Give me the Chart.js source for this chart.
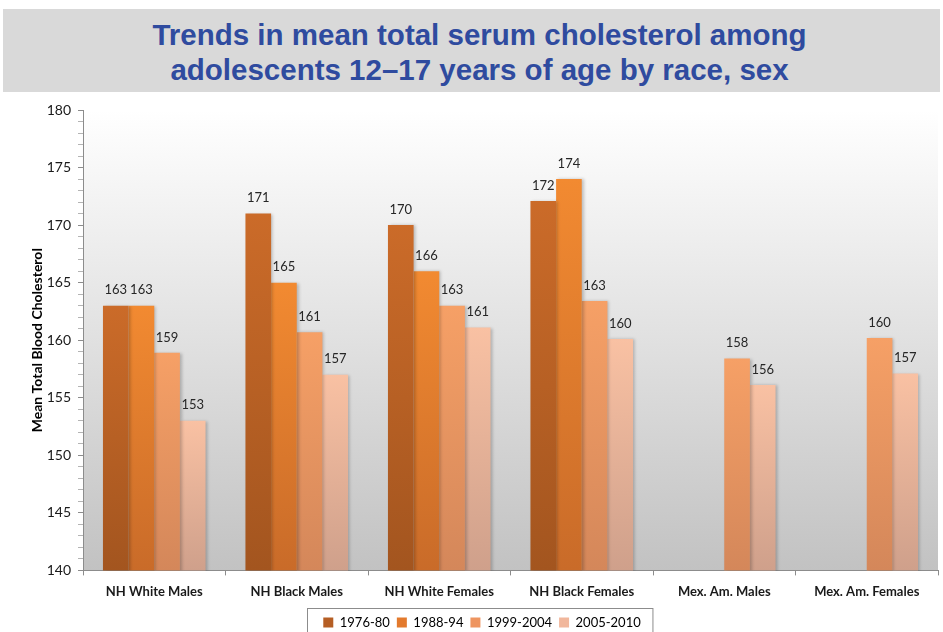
<!DOCTYPE html>
<html>
<head>
<meta charset="utf-8">
<script src="https://cdn.jsdelivr.net/npm/chart.js@4/dist/chart.umd.min.js"></script>
<style>
  html, body { margin: 0; padding: 0; background: #fff; overflow: hidden; }
  #page { position: relative; width: 943px; height: 632px; overflow: hidden; }
  #title {
    position: absolute; left: 3px; top: 9px; width: 937px; height: 83px;
    background: #d9d9d9; color: #2f4b9f; box-sizing: border-box; padding: 8px 0 0 16px;
    font: bold 29.5px "Liberation Sans", Arial, sans-serif; line-height: 35px; text-align: center;
  }
  #wrap { position: absolute; left: 0; top: 92px; width: 943px; height: 547px; }
</style>
</head>
<body>
<div id="page">
  <div id="title">Trends in mean total serum cholesterol among<br>adolescents 12–17 years of age by race, sex</div>
  <div id="wrap"><canvas id="chart"></canvas></div>
</div>
<script>
// data
const categories = ['NH White Males', 'NH Black Males', 'NH White Females', 'NH Black Females', 'Mex. Am. Males', 'Mex. Am. Females'];
const periods = ['1976-80', '1988-94', '1999-2004', '2005-2010'];
const values1976 = [163, 171, 170, 172.1, null, null];
const values1988 = [163, 165, 166, 174, null, null];
const values1999 = [158.9, 160.7, 163, 163.4, 158.4, 160.2];
const values2005 = [153, 157, 161.1, 160.1, 156.1, 157.1];
const yMin = 140;
const yMax = 180;
const yLabelStep = 5;

const topColors = ['#cb6b29', '#f28a31', '#f6a066', '#f9c1a3'];
const bottomColors = ['#a3551f', '#c96b29', '#d4875a', '#cfa08b'];
const legendColors = ['#b55e24', '#e37a2d', '#ee9560', '#f1b79c'];

// each bar shades from its top down to the axis
function barFill(i) {
  return (ctx) => {
    const chart = ctx.chart;
    const area = chart.chartArea;
    if (!area || ctx.raw == null) return topColors[i];
    const yTop = chart.scales.y.getPixelForValue(ctx.raw);
    const g = chart.ctx.createLinearGradient(0, yTop, 0, area.bottom);
    g.addColorStop(0, topColors[i]);
    g.addColorStop(1, bottomColors[i]);
    return g;
  };
}

const plotBackground = {
  id: 'plotBackground',
  beforeDraw(chart) {
    const { ctx, chartArea: a } = chart;
    const g = ctx.createLinearGradient(0, a.top, 0, a.bottom);
    g.addColorStop(0, '#ffffff');
    g.addColorStop(1, '#c2c2c2');
    ctx.save();
    ctx.fillStyle = g;
    ctx.fillRect(a.left, a.top, a.width, a.height);
    ctx.restore();
  }
};

const barShadow = {
  id: 'barShadow',
  beforeDatasetsDraw(chart) {
    const c = chart.ctx;
    c.save();
    c.shadowColor = 'rgba(0,0,0,0.22)';
    c.shadowBlur = 3;
    c.shadowOffsetX = 2;
  },
  afterDatasetsDraw(chart) {
    chart.ctx.restore();
  }
};

const barValueLabels = {
  id: 'barValueLabels',
  afterDatasetsDraw(chart) {
    const ctx = chart.ctx;
    ctx.save();
    ctx.font = '13px Lato';
    ctx.fillStyle = '#262626';
    ctx.textAlign = 'center';
    ctx.textBaseline = 'bottom';
    chart.data.datasets.forEach((ds, i) => {
      chart.getDatasetMeta(i).data.forEach((bar, j) => {
        const v = ds.data[j];
        if (v == null) return;
        ctx.fillText(Math.round(v), bar.x, bar.y - 9);
      });
    });
    ctx.restore();
  }
};

const legendBorder = {
  id: 'legendBorder',
  afterDraw(chart) {
    const boxes = chart.legend.legendHitBoxes;
    if (!boxes || !boxes.length) return;
    const left = Math.min(...boxes.map(b => b.left)) - 16;
    const right = Math.max(...boxes.map(b => b.left + b.width)) + 12;
    const top = boxes[0].top - 8;
    const ctx = chart.ctx;
    ctx.save();
    ctx.strokeStyle = '#8c8c8c';
    ctx.lineWidth = 1;
    ctx.strokeRect(Math.round(left) + 0.5, Math.round(top) + 0.5, right - left, 40);
    ctx.restore();
  }
};

const datasets = [values1976, values1988, values1999, values2005].map((vals, i) => ({
  label: periods[i],
  data: vals,
  backgroundColor: barFill(i),
  borderWidth: 0,
  categoryPercentage: 0.72,
  barPercentage: 1.0
}));

new Chart(document.getElementById('chart'), {
  type: 'bar',
  data: { labels: categories, datasets: datasets },
  options: {
    responsive: true,
    maintainAspectRatio: false,
    animation: false,
    layout: { padding: { top: 18, right: 5, left: 26, bottom: 0 } },
    plugins: {
      tooltip: { enabled: false },
      legend: {
        position: 'bottom',
        labels: {
          boxWidth: 10,
          boxHeight: 10,
          padding: 7,
          color: '#1a1a1a',
          font: { family: 'Lato', size: 13 },
          generateLabels: (chart) => chart.data.datasets.map((ds, i) => ({
            text: ds.label,
            fillStyle: legendColors[i],
            strokeStyle: legendColors[i],
            lineWidth: 0,
            datasetIndex: i
          }))
        }
      }
    },
    scales: {
      x: {
        grid: { drawOnChartArea: false, tickLength: 5, color: '#8c8c8c', offset: true },
        border: { color: '#8c8c8c' },
        ticks: {
          color: '#1a1a1a',
          font: { family: 'Lato', size: 13, weight: 'bold' },
          padding: 9,
          maxRotation: 0,
          autoSkip: false
        }
      },
      y: {
        min: yMin,
        max: yMax,
        ticks: {
          stepSize: 1,
          autoSkip: false,
          callback: (v) => (v % yLabelStep === 0 ? v : ''),
          color: '#1a1a1a',
          font: { family: 'Lato', size: 14 },
          padding: 7
        },
        grid: {
          drawOnChartArea: false,
          tickLength: 5,
          tickColor: (ctx) => (ctx.tick && ctx.tick.value % yLabelStep === 0 ? '#8c8c8c' : '#b4b4b4')
        },
        border: { color: '#8c8c8c' },
        title: {
          display: true,
          text: 'Mean Total Blood Cholesterol',
          color: '#000',
          font: { family: 'Lato', size: 14, weight: 'bold' },
          padding: { top: 3, bottom: 4 }
        },
        afterFit(scale) { scale.width = 57; }
      }
    }
  },
  plugins: [plotBackground, barShadow, barValueLabels, legendBorder]
});
</script>
</body>
</html>
